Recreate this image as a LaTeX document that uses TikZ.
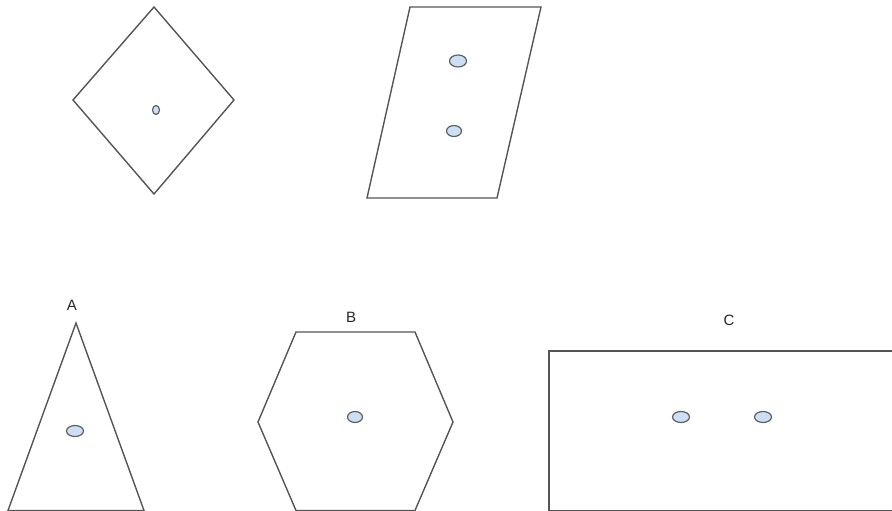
\documentclass[tikz,border=0pt]{standalone}
\usepackage{fontspec}
\setmainfont{Liberation Sans}
\definecolor{blobfill}{RGB}{204,224,245}
\definecolor{blobline}{RGB}{95,95,95}
\definecolor{edgeline}{RGB}{85,85,85}
\begin{document}
\begin{tikzpicture}[x=1pt,y=-1pt,
  shapeline/.style={draw=edgeline, line width=1.4pt, line join=miter},
  blob/.style={draw=blobline, fill=blobfill, line width=1.2pt},
  lbl/.style={font=\fontsize{15}{16}\selectfont, text=black!85}]
\useasboundingbox (0,0) rectangle (892,511);
\clip (0,0) rectangle (892,511);
% diamond
\draw[shapeline] (154,7) -- (234,100) -- (154,194) -- (73,100) -- cycle;
\draw[blob] (156,110) ellipse (3.5 and 4.5);
% parallelogram
\draw[shapeline] (410,7) -- (541,7) -- (497,198) -- (367,198) -- cycle;
\draw[blob] (458,61) ellipse (8.5 and 6);
\draw[blob] (454,131) ellipse (7.5 and 5.5);
% triangle A
\draw[shapeline] (76,323) -- (144,510.5) -- (8,510.5) -- cycle;
\node[lbl] (la) at (72,305) {A};
\draw[blob] (75,431) ellipse (8.5 and 5.5);
% hexagon B
\draw[shapeline] (296,332) -- (415,332) -- (453,422) -- (415,510.5) -- (296,510.5) -- (258,422) -- cycle;
\node[lbl] (lb) at (351,317) {B};
\draw[blob] (355,417) ellipse (7.5 and 5.5);
% rectangle C
\draw[shapeline] (549,351) rectangle (900,510.5);
\node[lbl] (lc) at (729,320) {C};
\draw[blob] (681,417) ellipse (8.5 and 5.5);
\draw[blob] (763,417) ellipse (8.5 and 5.5);
\end{tikzpicture}
\end{document}
